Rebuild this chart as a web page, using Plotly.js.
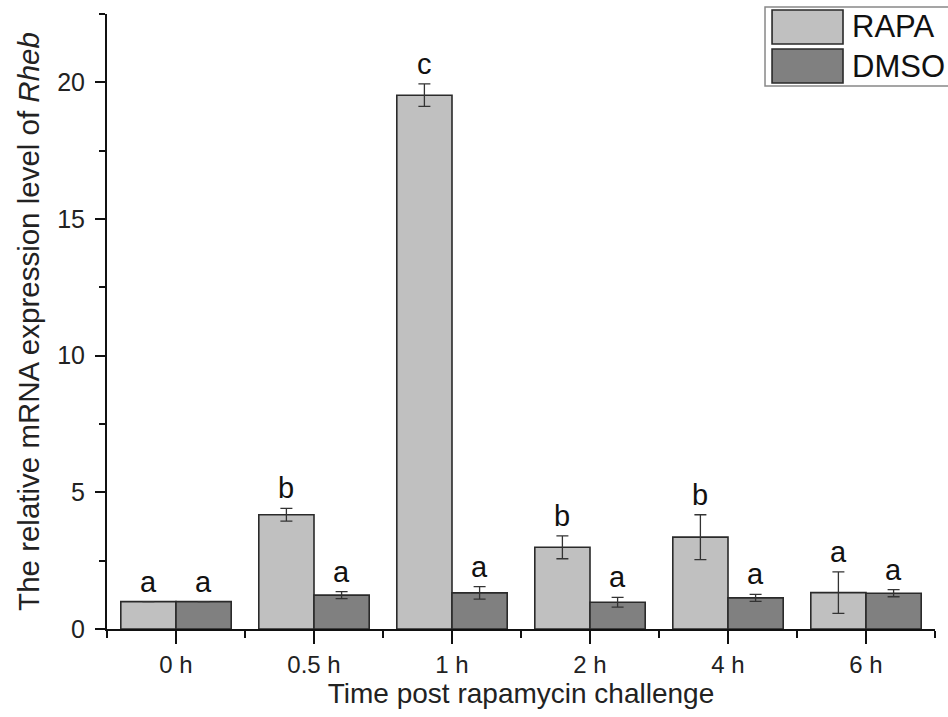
<!DOCTYPE html>
<html>
<head>
<meta charset="utf-8">
<script src="https://cdn.plot.ly/plotly-3.0.1.min.js"></script>
<style>html,body{margin:0;padding:0;background:#fff;}#chart{width:948px;height:717px;}</style>
</head>
<body>
<div id="chart"></div>
<script>
// ---- data ----
const categories = ['0 h', '0.5 h', '1 h', '2 h', '4 h', '6 h'];
const rapaValues = [1.0, 4.18, 19.53, 2.99, 3.36, 1.33];
const rapaErrors = [0, 0.23, 0.41, 0.42, 0.82, 0.76];
const dmsoValues = [1.0, 1.24, 1.32, 0.98, 1.14, 1.31];
const dmsoErrors = [0, 0.13, 0.23, 0.18, 0.13, 0.13];
const rapaLetters = ['a', 'b', 'c', 'b', 'b', 'a'];
const dmsoLetters = ['a', 'a', 'a', 'a', 'a', 'a'];
const seriesNames = ['RAPA', 'DMSO'];

const FONT = 'Liberation Sans, Arial, sans-serif';
const rapaColor = '#c0c0c0';
const dmsoColor = '#808080';
const xIdx = categories.map((c, i) => i);

const errStyle = {type: 'data', visible: true, color: '#333', thickness: 1.3, width: 6};

const traces = [
  {type: 'bar', name: seriesNames[0], x: xIdx, y: rapaValues,
   error_y: Object.assign({array: rapaErrors}, errStyle),
   marker: {color: rapaColor, line: {color: '#2a2a2a', width: 1.6}}},
  {type: 'bar', name: seriesNames[1], x: xIdx, y: dmsoValues,
   error_y: Object.assign({array: dmsoErrors}, errStyle),
   marker: {color: dmsoColor, line: {color: '#2a2a2a', width: 1.6}}}
];

const annotations = [];
xIdx.forEach(i => {
  annotations.push({x: i - 0.2, y: rapaValues[i] + rapaErrors[i], xref: 'x', yref: 'y',
    text: rapaLetters[i], showarrow: false, yanchor: 'bottom', yshift: 2,
    font: {family: FONT, size: 29, color: '#111'}});
  annotations.push({x: i + 0.2, y: dmsoValues[i] + dmsoErrors[i], xref: 'x', yref: 'y',
    text: dmsoLetters[i], showarrow: false, yanchor: 'bottom', yshift: 2,
    font: {family: FONT, size: 29, color: '#111'}});
});

// custom legend (large swatches)
const shapes = [
  {type: 'rect', xref: 'paper', yref: 'paper', x0: 0.7947, x1: 1.03, y0: 0.883, y1: 1.0114,
   line: {color: '#888', width: 1.5}, fillcolor: '#fff'},
  {type: 'rect', xref: 'paper', yref: 'paper', x0: 0.8032, x1: 0.8889, y0: 0.9512, y1: 1.0065,
   line: {color: '#2a2a2a', width: 1.6}, fillcolor: rapaColor},
  {type: 'rect', xref: 'paper', yref: 'paper', x0: 0.8032, x1: 0.8889, y0: 0.8878, y1: 0.9431,
   line: {color: '#2a2a2a', width: 1.6}, fillcolor: dmsoColor}
];
annotations.push({xref: 'paper', yref: 'paper', x: 0.8978, y: 0.9789, xanchor: 'left', yanchor: 'middle',
  text: seriesNames[0], showarrow: false, font: {family: FONT, size: 31, color: '#111'}});
annotations.push({xref: 'paper', yref: 'paper', x: 0.8978, y: 0.9154, xanchor: 'left', yanchor: 'middle',
  text: seriesNames[1], showarrow: false, font: {family: FONT, size: 31, color: '#111'}});

const layout = {
  width: 948, height: 717,
  margin: {l: 107, r: 13, t: 14, b: 88},
  paper_bgcolor: '#fff', plot_bgcolor: '#fff',
  showlegend: false,
  barmode: 'group', bargap: 0.2, bargroupgap: 0,
  font: {family: FONT, color: '#222'},
  xaxis: {
    range: [-0.5, 5.5], tickmode: 'array', tickvals: xIdx, ticktext: categories,
    showgrid: false, zeroline: false, showline: true, linecolor: '#111', linewidth: 2,
    ticks: 'outside', ticklen: 13, tickwidth: 2, tickcolor: '#111',
    tickfont: {family: FONT, size: 24, color: '#222'},
    minor: {tick0: 0.5, dtick: 1, ticks: 'outside', ticklen: 7, tickwidth: 2, tickcolor: '#111', showgrid: false},
    title: {text: 'Time post rapamycin challenge', font: {family: FONT, size: 28, color: '#222'}, standoff: 2},
    fixedrange: true
  },
  yaxis: {
    range: [0, 22.5], dtick: 5, tick0: 0,
    showgrid: false, zeroline: false, showline: true, linecolor: '#111', linewidth: 2,
    ticks: 'outside', ticklen: 10, tickwidth: 2, tickcolor: '#111',
    ticklabelstandoff: 5,
    tickfont: {family: FONT, size: 25, color: '#222'},
    minor: {dtick: 2.5, ticks: 'outside', ticklen: 6, tickwidth: 2, tickcolor: '#111', showgrid: false},
    title: {text: 'The relative mRNA expression level of <i>Rheb</i>', font: {family: FONT, size: 29.5, color: '#222'}, standoff: 9},
    fixedrange: true
  },
  shapes: shapes,
  annotations: annotations
};

Plotly.newPlot('chart', traces, layout, {displayModeBar: false, staticPlot: true});
</script>
</body>
</html>
